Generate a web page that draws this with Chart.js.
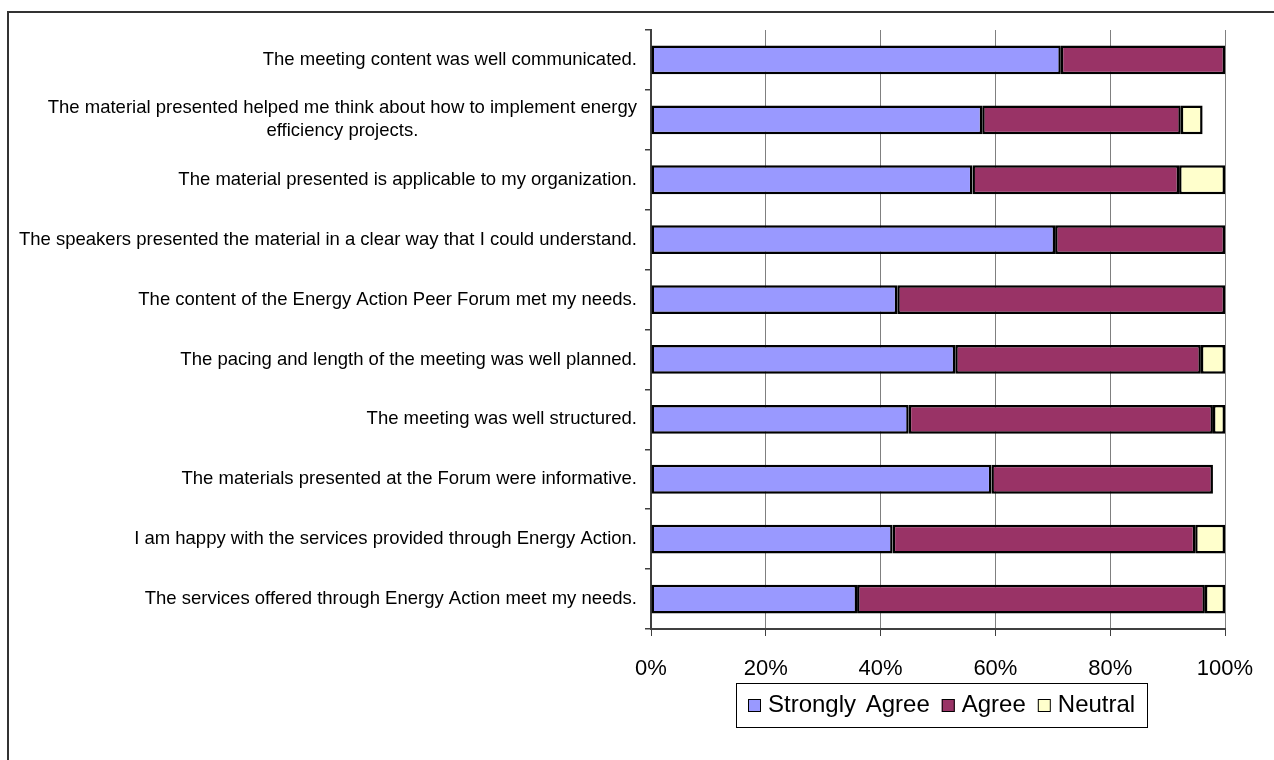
<!DOCTYPE html>
<html>
<head>
<meta charset="utf-8">
<title>Energy Action Peer Forum – Evaluation</title>
<script src="https://cdn.jsdelivr.net/npm/chart.js@4.4.1/dist/chart.umd.min.js"></script>
<style>
  html, body { margin: 0; padding: 0; background: #ffffff; }
  #wrap { width: 1274px; height: 760px; position: relative; }
</style>
</head>
<body>
<div id="wrap"><canvas id="c" width="1274" height="760"></canvas></div>
<script>
// Survey statements, top to bottom
const categories = [
  'The meeting content was well communicated.',
  ['The material presented helped me think about how to implement energy', 'efficiency projects.'],
  'The material presented is applicable to my organization.',
  'The speakers presented the material in a clear way that I could understand.',
  'The content of the Energy Action Peer Forum met my needs.',
  'The pacing and length of the meeting was well planned.',
  'The meeting was well structured.',
  'The materials presented at the Forum were informative.',
  'I am happy with the services provided through Energy Action.',
  'The services offered through Energy Action meet my needs.'
];

// Share of responses (%)
const stronglyAgree = [71.4, 57.7, 56.0, 70.4, 42.9, 53.0, 44.9, 59.3, 42.1, 35.9];
const agree         = [28.6, 34.6, 36.0, 29.6, 57.1, 42.8, 53.0, 38.6, 52.7, 60.6];
const neutral       = [null, 3.8,  8.0,  null, null, 4.2,  2.1,  null, 5.2,  3.5];

const seriesNames  = ['Strongly Agree', 'Agree', 'Neutral'];
const seriesColors = ['#9999FF', '#993366', '#FFFFCC'];

const xTickStep = 20;
const xMax = 100;

const FONT = '"Liberation Sans", Arial, Helvetica, sans-serif';

// Outer frame of the chart object
const framePlugin = {
  id: 'frame',
  beforeDraw(chart) {
    const ctx = chart.ctx;
    ctx.save();
    ctx.fillStyle = '#ffffff';
    ctx.fillRect(0, 0, chart.width, chart.height);
    ctx.strokeStyle = '#333333';
    ctx.lineWidth = 2;
    ctx.strokeRect(8, 12, chart.width + 40, chart.height + 40);
    ctx.restore();
  }
};

// Statement labels: right-aligned block, wrapped lines centred within it
const statementLabels = {
  id: 'statementLabels',
  afterDraw(chart) {
    const ctx = chart.ctx;
    const y = chart.scales.y;
    const rightEdge = chart.chartArea.left - 14;
    const lineH = 23;
    ctx.save();
    ctx.font = '18.5px ' + FONT;
    ctx.fillStyle = '#000000';
    ctx.textBaseline = 'middle';
    ctx.textAlign = 'center';
    categories.forEach((lab, i) => {
      const lines = Array.isArray(lab) ? lab : [lab];
      const w = Math.max(...lines.map(l => ctx.measureText(l).width));
      const cx = rightEdge - w / 2;
      const cy = y.getPixelForTick(i);
      const y0 = cy - (lines.length - 1) * lineH / 2;
      lines.forEach((l, k) => ctx.fillText(l, cx, y0 + k * lineH));
    });
    ctx.restore();
  }
};

// Framed legend below the plot
const boxedLegend = {
  id: 'boxedLegend',
  afterDraw(chart) {
    const ctx = chart.ctx;
    const area = chart.chartArea;
    ctx.save();
    ctx.font = '24px ' + FONT;
    ctx.textBaseline = 'middle';
    ctx.wordSpacing = '3px';
    const sq = 13, gapTxt = 7, gapItem = 12, padX = 12;
    const widths = seriesNames.map(n => ctx.measureText(n).width);
    let total = padX * 2;
    widths.forEach((w, i) => { total += sq + gapTxt + w + (i < widths.length - 1 ? gapItem : 0); });
    const left = Math.round((area.left + area.right) / 2 - total / 2) + 4;
    const top = 683, h = 44;
    ctx.strokeStyle = '#000000';
    ctx.lineWidth = 1;
    ctx.strokeRect(left + 0.5, top + 0.5, Math.round(total), h);
    const cy = top + h / 2 + 0.5;
    let x = left + padX;
    seriesNames.forEach((n, i) => {
      ctx.fillStyle = seriesColors[i];
      ctx.fillRect(x, cy - sq / 2, sq, sq);
      ctx.strokeStyle = '#000000';
      ctx.lineWidth = 1;
      ctx.strokeRect(x + 0.5, cy - sq / 2 + 0.5, sq - 1, sq - 1);
      x += sq + gapTxt;
      ctx.fillStyle = '#000000';
      ctx.textAlign = 'left';
      ctx.fillText(n, x, cy);
      x += widths[i] + gapItem;
    });
    ctx.restore();
  }
};

const datasets = [stronglyAgree, agree, neutral].map((vals, i) => ({
  label: seriesNames[i],
  data: vals,
  backgroundColor: seriesColors[i],
  borderColor: '#000000',
  borderWidth: 2.5,
  borderSkipped: false,
  barPercentage: 0.48,
  categoryPercentage: 1.0
}));

new Chart(document.getElementById('c'), {
  type: 'bar',
  data: {
    labels: categories.map(l => Array.isArray(l) ? l.join(' ') : l),
    datasets
  },
  options: {
    indexAxis: 'y',
    responsive: false,
    animation: false,
    devicePixelRatio: 1,
    layout: { padding: { top: 30, right: 49, bottom: 0, left: 0 } },
    plugins: {
      legend: { display: false },
      tooltip: { enabled: false }
    },
    scales: {
      x: {
        stacked: true,
        min: 0,
        max: xMax,
        ticks: {
          stepSize: xTickStep,
          callback: v => v + '%',
          font: { family: FONT, size: 22 },
          color: '#000000',
          padding: 20,
          maxRotation: 0
        },
        grid: {
          color: '#808080',
          lineWidth: 1,
          tickLength: 7,
          tickColor: '#404040'
        },
        border: { color: '#404040', width: 2 },
        afterFit(scale) { scale.height = 131; }
      },
      y: {
        stacked: true,
        offset: true,
        ticks: { display: false },
        grid: {
          drawOnChartArea: false,
          offset: true,
          tickLength: 6,
          tickColor: '#404040',
          lineWidth: 1.5
        },
        border: { color: '#404040', width: 2 },
        afterFit(scale) { scale.width = 651; }
      }
    }
  },
  plugins: [framePlugin, statementLabels, boxedLegend]
});
</script>
</body>
</html>
